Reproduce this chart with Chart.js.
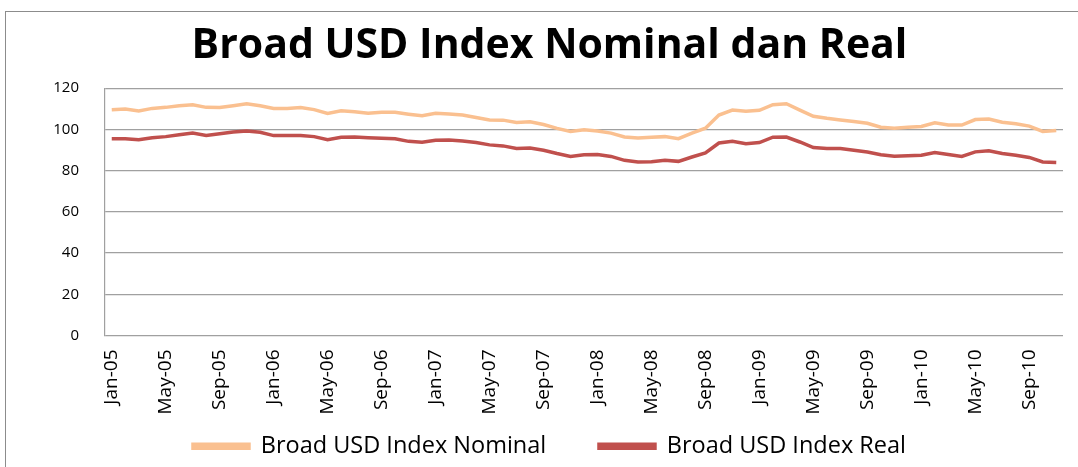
<!DOCTYPE html>
<html>
<head>
<meta charset="UTF-8">
<title>Broad USD Index Nominal dan Real</title>
<script src="https://cdn.jsdelivr.net/npm/chart.js@4.4.0/dist/chart.umd.min.js"></script>
<style>
    body { margin: 0; background: #ffffff; overflow: hidden; }
    .frame {
        position: absolute;
        left: 5px;
        top: 11px;
        width: 1090px;
        height: 470px;
        border: 1.5px solid #8c8c8c;
        background: #ffffff;
    }
    .chart-box { position: relative; width: 1090px; height: 456px; }
</style>
</head>
<body>
<div class="frame">
    <div class="chart-box"><canvas id="usdChart"></canvas></div>
</div>
<script>
// monthly categories, Jan-05 .. Nov-10
const months = [
    'Jan-05','Feb-05','Mar-05','Apr-05','May-05','Jun-05','Jul-05','Aug-05','Sep-05','Oct-05','Nov-05','Dec-05',
    'Jan-06','Feb-06','Mar-06','Apr-06','May-06','Jun-06','Jul-06','Aug-06','Sep-06','Oct-06','Nov-06','Dec-06',
    'Jan-07','Feb-07','Mar-07','Apr-07','May-07','Jun-07','Jul-07','Aug-07','Sep-07','Oct-07','Nov-07','Dec-07',
    'Jan-08','Feb-08','Mar-08','Apr-08','May-08','Jun-08','Jul-08','Aug-08','Sep-08','Oct-08','Nov-08','Dec-08',
    'Jan-09','Feb-09','Mar-09','Apr-09','May-09','Jun-09','Jul-09','Aug-09','Sep-09','Oct-09','Nov-09','Dec-09',
    'Jan-10','Feb-10','Mar-10','Apr-10','May-10','Jun-10','Jul-10','Aug-10','Sep-10','Oct-10','Nov-10'
];

const nominal = [
    109.6, 109.9, 109.0, 110.2, 110.7, 111.5, 112.0, 110.7, 110.6, 111.5, 112.5, 111.5,
    110.2, 110.2, 110.6, 109.6, 107.7, 109.0, 108.6, 107.8, 108.3, 108.3, 107.4, 106.6,
    107.8, 107.5, 107.0, 105.8, 104.6, 104.5, 103.4, 103.7, 102.4, 100.5, 99.0, 99.8,
    99.2, 98.2, 96.3, 95.8, 96.2, 96.5, 95.5, 98.2, 100.6, 107.0, 109.4, 108.8,
    109.3, 112.0, 112.5, 109.4, 106.4, 105.4, 104.6, 103.8, 103.0, 101.1, 100.6, 101.0,
    101.4, 103.2, 102.2, 102.1, 104.8, 105.0, 103.5, 102.7, 101.6, 99.0, 99.5
];

const real = [
    95.5, 95.5, 95.0, 96.0, 96.5, 97.4, 98.2, 97.1, 97.9, 98.7, 99.2, 98.6,
    97.0, 97.1, 97.1, 96.5, 95.0, 96.2, 96.3, 96.0, 95.7, 95.5, 94.2, 93.8,
    94.7, 94.9, 94.4, 93.6, 92.5, 92.0, 90.7, 91.0, 89.9, 88.3, 86.9, 87.7,
    87.8, 86.9, 85.0, 84.2, 84.3, 85.0, 84.5, 86.6, 88.6, 93.4, 94.2, 93.0,
    93.6, 96.2, 96.3, 93.9, 91.2, 90.7, 90.7, 89.9, 89.0, 87.7, 87.0, 87.2,
    87.5, 88.8, 87.8, 86.9, 89.1, 89.6, 88.3, 87.5, 86.4, 84.2, 84.0
];

const yTicks = [0, 20, 40, 60, 80, 100, 120];

const ctx = document.getElementById('usdChart').getContext('2d');
const usdChart = new Chart(ctx, {
    type: 'line',
    data: {
        labels: months,
        datasets: [
            {
                label: 'Broad USD Index Nominal',
                data: nominal,
                borderColor: '#FAC090',
                backgroundColor: '#FAC090',
                borderWidth: 3.5,
                pointRadius: 0,
                tension: 0
            },
            {
                label: 'Broad USD Index Real',
                data: real,
                borderColor: '#C0504D',
                backgroundColor: '#C0504D',
                borderWidth: 3.5,
                pointRadius: 0,
                tension: 0
            }
        ]
    },
    options: {
        responsive: true,
        maintainAspectRatio: false,
        animation: false,
        layout: { padding: { left: 30, right: 33, top: 0, bottom: 0 } },
        scales: {
            x: {
                offset: true,
                grid: { display: false },
                border: { display: false },
                ticks: {
                    autoSkip: false,
                    minRotation: 90,
                    maxRotation: 90,
                    padding: 6,
                    color: '#000000',
                    font: { family: "'Liberation Sans Narrow', 'Open Sans', sans-serif", size: 19 },
                    callback: function(value, index) {
                        return index % 4 === 0 ? months[index] : '';
                    }
                },
                afterFit: function(scale) {
                    scale.height = 89;
                    scale.paddingLeft = 0;
                    scale.paddingRight = 0;
                }
            },
            y: {
                min: 0,
                max: 120,
                afterBuildTicks: function(scale) {
                    scale.ticks = yTicks.map(v => ({ value: v }));
                },
                grid: { color: '#a0a0a0', lineWidth: 1.2, drawTicks: false },
                border: { display: true, color: '#a0a0a0', width: 1.2 },
                ticks: {
                    padding: 26,
                    color: '#000000',
                    font: { family: "'Open Sans', sans-serif", size: 15 }
                },
                afterFit: function(scale) { scale.width = 69; }
            }
        },
        plugins: {
            title: {
                display: true,
                text: 'Broad USD Index Nominal dan Real',
                color: '#000000',
                font: { family: "'Open Sans', sans-serif", size: 41, weight: 'bold' },
                padding: { top: 10, bottom: 17 }
            },
            legend: {
                position: 'bottom',
                labels: {
                    boxWidth: 56,
                    boxHeight: 4,
                    padding: 10,
                    color: '#000000',
                    font: { family: "'Open Sans', sans-serif", size: 23.5 },
                    generateLabels: function(chart) {
                        const items = Chart.defaults.plugins.legend.labels.generateLabels(chart);
                        // wider gap between the two legend entries
                        items[0].text = items[0].text + '       ';
                        return items;
                    }
                }
            },
            tooltip: { enabled: false }
        }
    }
});
</script>
</body>
</html>
